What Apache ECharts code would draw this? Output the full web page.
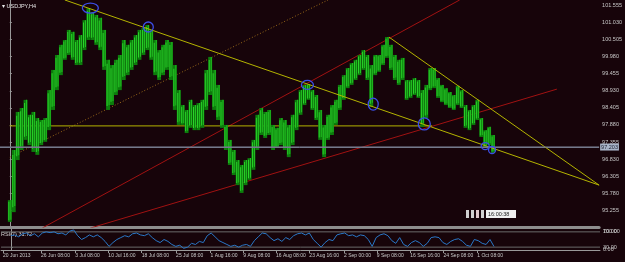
<!DOCTYPE html>
<html><head><meta charset="utf-8">
<script src="https://cdn.jsdelivr.net/npm/echarts@6/dist/echarts.min.js"></script>
<style>html,body{margin:0;padding:0;background:#17040a;overflow:hidden}#c{width:625px;height:262px}</style>
</head><body><div id="c"></div>
<script>
// ---- data ----
const symbolTitle = 'USDJPY,H4';
const colStep = 4; // H4 bars represented by each column
const highs = [95.57,97.11,98.28,98.40,98.65,98.19,98.28,98.09,98.03,98.09,98.95,99.57,100.03,100.34,100.49,100.80,100.74,100.49,100.64,101.10,
101.47,101.35,101.26,101.17,100.80,99.88,99.72,99.88,100.03,100.49,100.34,100.49,100.64,100.80,100.86,100.95,100.80,100.49,100.18,100.34,
100.49,100.43,99.72,98.95,98.49,98.34,98.65,98.49,98.55,98.65,99.57,99.97,99.57,99.11,98.65,97.88,97.42,97.11,96.80,96.65,
96.80,96.86,97.42,98.19,98.40,98.28,98.34,97.88,97.79,98.09,98.03,97.88,98.19,98.65,98.95,99.11,99.14,98.95,98.80,98.34,
97.88,98.19,98.49,98.65,99.11,99.41,99.63,99.78,99.88,100.03,100.18,100.03,99.72,100.03,100.03,100.34,100.58,100.34,100.03,99.88,
99.94,99.26,99.26,99.32,99.26,98.95,99.11,99.63,99.63,99.32,99.11,99.01,98.89,98.80,99.08,98.95,98.49,98.34,98.49,98.65,
98.09,97.72,97.82,97.57];
const lows = [94.90,95.20,96.80,97.11,97.42,97.26,97.05,96.96,97.26,97.36,97.72,98.34,98.95,99.41,99.88,100.03,99.88,99.72,99.72,100.18,
100.49,100.49,100.34,100.18,99.57,98.34,98.49,98.80,98.95,99.26,99.41,99.57,99.72,99.88,100.03,100.18,99.88,99.41,99.26,99.41,
99.57,99.26,98.34,97.88,97.88,97.63,97.79,97.72,97.72,97.79,98.34,98.80,98.34,98.03,97.79,97.11,96.65,96.34,96.03,95.79,
96.03,96.19,96.50,97.11,97.57,97.48,97.57,97.11,97.17,97.26,97.11,96.89,97.26,97.72,98.19,98.49,98.65,98.34,98.03,97.42,
96.89,97.42,97.57,97.88,98.34,98.65,99.01,99.11,99.26,99.41,99.57,99.26,98.43,99.41,99.51,99.72,99.94,99.57,99.26,99.11,
99.26,98.65,98.71,98.80,98.71,97.82,98.09,98.95,99.01,98.71,98.58,98.49,98.40,98.34,98.49,98.40,97.79,97.72,97.88,98.03,
97.51,97.20,97.26,97.02];
const rsi = [60,62,57,65,67,60,65,57,67,70,68,70,65,67,62,72,75,60,50,55,
62,57,62,55,45,32,42,50,55,60,57,65,67,62,60,65,55,47,42,50,
45,37,32,35,27,30,40,37,45,42,60,67,57,47,42,37,32,35,30,35,
37,32,47,57,67,65,55,47,52,45,55,50,60,65,67,62,67,50,40,30,
42,50,47,62,65,67,60,62,57,62,60,50,32,55,62,65,60,47,40,55,
37,32,42,47,42,32,40,55,57,55,42,37,45,50,52,45,35,32,50,47,
40,37,50,31.72];
const rsiLast = 31.72;
const rsiLevels = [70, 30];
const priceTicks = [95.255,95.780,96.305,96.830,97.355,97.880,98.405,98.930,99.455,99.980,100.505,101.030,101.555];
const timeTickBars = [-8,30.7,65.7,99.3,133.3,168.3,203.3,236.7,270,304,339.3,372.7,406.7,440.7,475];
const timeTickLabels = ['20 Jun 2013','26 Jun 08:00','3 Jul 08:00','10 Jul 16:00','18 Jul 08:00','25 Jul 08:00','1 Aug 16:00','9 Aug 08:00','16 Aug 08:00','23 Aug 16:00','2 Sep 00:00','9 Sep 08:00','16 Sep 16:00','24 Sep 08:00','1 Oct 08:00'];
const currentPrice = 97.203;
const horizontalLevel = [[0, 97.85], [430, 97.85]];
const yellowTrendA = [[56, 101.72], [600, 96.03]];
const yellowTrendB = [[386, 100.58], [600, 96.03]];
const redTrendA = [[33, 94.71], [458, 101.72]];
const redTrendB = [[82, 94.71], [557, 98.98]];
const dottedTrend = [[0, 96.89], [324, 101.72]];
const circleMarks = [[82,101.47],[141,100.89],[303,99.11],[370,98.52],[422,97.91],[484,97.23],[491,97.11]];
const serverTime = '16:00:38';

// ---- chart ----
const barData = highs.map((h, i) => [i * colStep, h, lows[i]]);
const rsiData = rsi.map((v, i) => [i * colStep, v]);
const circleSize = [[8,5],[5,5],[6,4.5],[5,6],[6,6],[4,3.5],[3.5,3.5]];
const FONT = 'Liberation Sans';
const axisGray = '#9a9a9a';
const labelColor = '#c8c8c8';

const chart = echarts.init(document.getElementById('c'), null, {renderer: 'canvas'});
const lineS = (data, color, extra) => Object.assign({
  type: 'line', xAxisIndex: 0, yAxisIndex: 0, data, showSymbol: false, silent: true,
  lineStyle: {color, width: 1}, animation: false, clip: true, z: 3
}, extra || {});

chart.setOption({
  backgroundColor: '#17040a',
  animation: false,
  grid: [
    {left: -10, right: 25, top: 0, height: 227},
    {left: -10, right: 25, top: 229, height: 21}
  ],
  xAxis: [
    {gridIndex: 0, type: 'value', min: -10, max: 600,
      axisLine: {show: true, lineStyle: {color: '#8e8e8e', width: 3}},
      axisTick: {show: false}, axisLabel: {show: false}, splitLine: {show: false}},
    {gridIndex: 1, type: 'value', min: -10, max: 600,
      axisLine: {show: true, lineStyle: {color: axisGray, width: 1}},
      axisTick: {show: true, customValues: timeTickBars, length: 3, lineStyle: {color: axisGray}},
      axisLabel: {show: true, customValues: timeTickBars, align: 'left', margin: 3,
        fontSize: 5, fontFamily: FONT, color: labelColor,
        formatter: v => { let k = 0, d = 1e9; timeTickBars.forEach((t, i) => { if (Math.abs(t - v) < d) { d = Math.abs(t - v); k = i; } }); return timeTickLabels[k]; }},
      splitLine: {show: false}}
  ],
  yAxis: [
    {gridIndex: 0, type: 'value', position: 'right', min: 94.743, max: 101.719,
      axisLine: {show: true, lineStyle: {color: axisGray}},
      axisTick: {show: true, customValues: priceTicks, length: 2, lineStyle: {color: axisGray}},
      axisLabel: {show: true, customValues: priceTicks, margin: 3, fontSize: 5.5, fontFamily: FONT, color: labelColor,
        formatter: v => v.toFixed(3)},
      splitLine: {show: false}},
    {gridIndex: 1, type: 'value', position: 'right', min: 22.5, max: 77.5,
      axisLine: {show: true, lineStyle: {color: axisGray}},
      axisTick: {show: true, customValues: rsiLevels, length: 2, lineStyle: {color: axisGray}},
      axisLabel: {show: true, customValues: rsiLevels, margin: 3, fontSize: 5.5, fontFamily: FONT, color: labelColor,
        formatter: v => v.toFixed(2)},
      splitLine: {show: false}}
  ],
  series: [
    lineS(dottedTrend, '#9a6a1a', {lineStyle: {color: '#9a6a1a', width: 1, type: [1, 2]}}),
    lineS(redTrendA, '#a01212'),
    lineS(redTrendB, '#a01212'),
    lineS(horizontalLevel, '#b4b400'),
    {
      type: 'custom', xAxisIndex: 0, yAxisIndex: 0, data: barData, z: 4, silent: true,
      renderItem: (params, api) => {
        const x = api.value(0);
        const p1 = api.coord([x - colStep / 2, api.value(1)]);
        const p2 = api.coord([x + colStep / 2, api.value(2)]);
        const w = p2[0] - p1[0], h = p2[1] - p1[1];
        return {type: 'group', children: [
          {type: 'rect', shape: {x: p1[0], y: p1[1], width: w, height: h}, style: {fill: '#0c7d0c'}},
          {type: 'rect', shape: {x: p1[0] + 0.5, y: p1[1] + h * 0.08, width: 1, height: h * 0.84}, style: {fill: '#2bd42b'}},
          {type: 'rect', shape: {x: p1[0] + 2.5, y: p1[1], width: 1, height: h * 0.9}, style: {fill: '#22c022'}}
        ]};
      }
    },
    lineS(yellowTrendA, '#b4b400', {z: 5}),
    lineS(yellowTrendB, '#b4b400', {z: 5}),
    lineS([[-10, currentPrice], [600, currentPrice]], '#747a8c', {z: 5,
      markLine: {silent: true, symbol: 'none', animation: false,
        lineStyle: {color: '#747a8c', width: 1, type: 'solid'},
        label: {position: 'end', distance: 1, formatter: currentPrice.toFixed(3), fontSize: 5.5, fontFamily: FONT,
          color: '#1c2030', backgroundColor: '#a8b4c8', padding: [1, 1, 0, 1]},
        data: [{yAxis: currentPrice}]}}),
    {
      type: 'custom', xAxisIndex: 0, yAxisIndex: 0, data: circleMarks, z: 6, silent: true,
      renderItem: (params, api) => {
        const p = api.coord([api.value(0), api.value(1)]);
        const s = circleSize[params.dataIndex];
        return {type: 'ellipse', shape: {cx: p[0], cy: p[1], rx: s[0], ry: s[1]},
          style: {fill: 'none', stroke: '#3c4ee6', lineWidth: 1.3}};
      }
    },
    lineS([[-10, rsiLevels[0]], [600, rsiLevels[0]]], '#6a6a6a', {xAxisIndex: 1, yAxisIndex: 1}),
    lineS([[-10, rsiLevels[1]], [600, rsiLevels[1]]], '#6a6a6a', {xAxisIndex: 1, yAxisIndex: 1}),
    lineS(rsiData, '#2a78c8', {xAxisIndex: 1, yAxisIndex: 1, z: 4})
  ],
  graphic: [
    {type: 'text', left: 2, top: 3, style: {text: '▾ ' + symbolTitle, fill: '#e6e6e6', fontSize: 5.5, fontFamily: FONT}},
    {type: 'text', left: 1, top: 231, style: {text: 'RSI(7) ' + rsiLast.toFixed(2), fill: '#d8d8d8', fontSize: 5.5, fontFamily: FONT}},
    {type: 'text', left: 603, top: 228, style: {text: '100.00', fill: labelColor, fontSize: 5.5, fontFamily: FONT}},
    {type: 'text', left: 603, top: 246, style: {text: '0.00', fill: labelColor, fontSize: 5.5, fontFamily: FONT}},
    {type: 'group', left: 466, top: 210, children: [
      {type: 'rect', shape: {x: 0, y: 0, width: 3, height: 8}, style: {fill: '#d0d0d0'}},
      {type: 'rect', shape: {x: 5, y: 0, width: 3, height: 8}, style: {fill: '#d0d0d0'}},
      {type: 'rect', shape: {x: 10, y: 0, width: 3, height: 8}, style: {fill: '#e0c8cc'}},
      {type: 'rect', shape: {x: 15, y: 0, width: 3, height: 8}, style: {fill: '#d0d0d0'}},
      {type: 'rect', shape: {x: 20, y: 0, width: 30, height: 8}, style: {fill: '#f0f0f0'}},
      {type: 'text', x: 22, y: 1.5, style: {text: serverTime, fill: '#202020', fontSize: 5.5, fontFamily: FONT}}
    ]}
  ]
});
</script></body></html>
